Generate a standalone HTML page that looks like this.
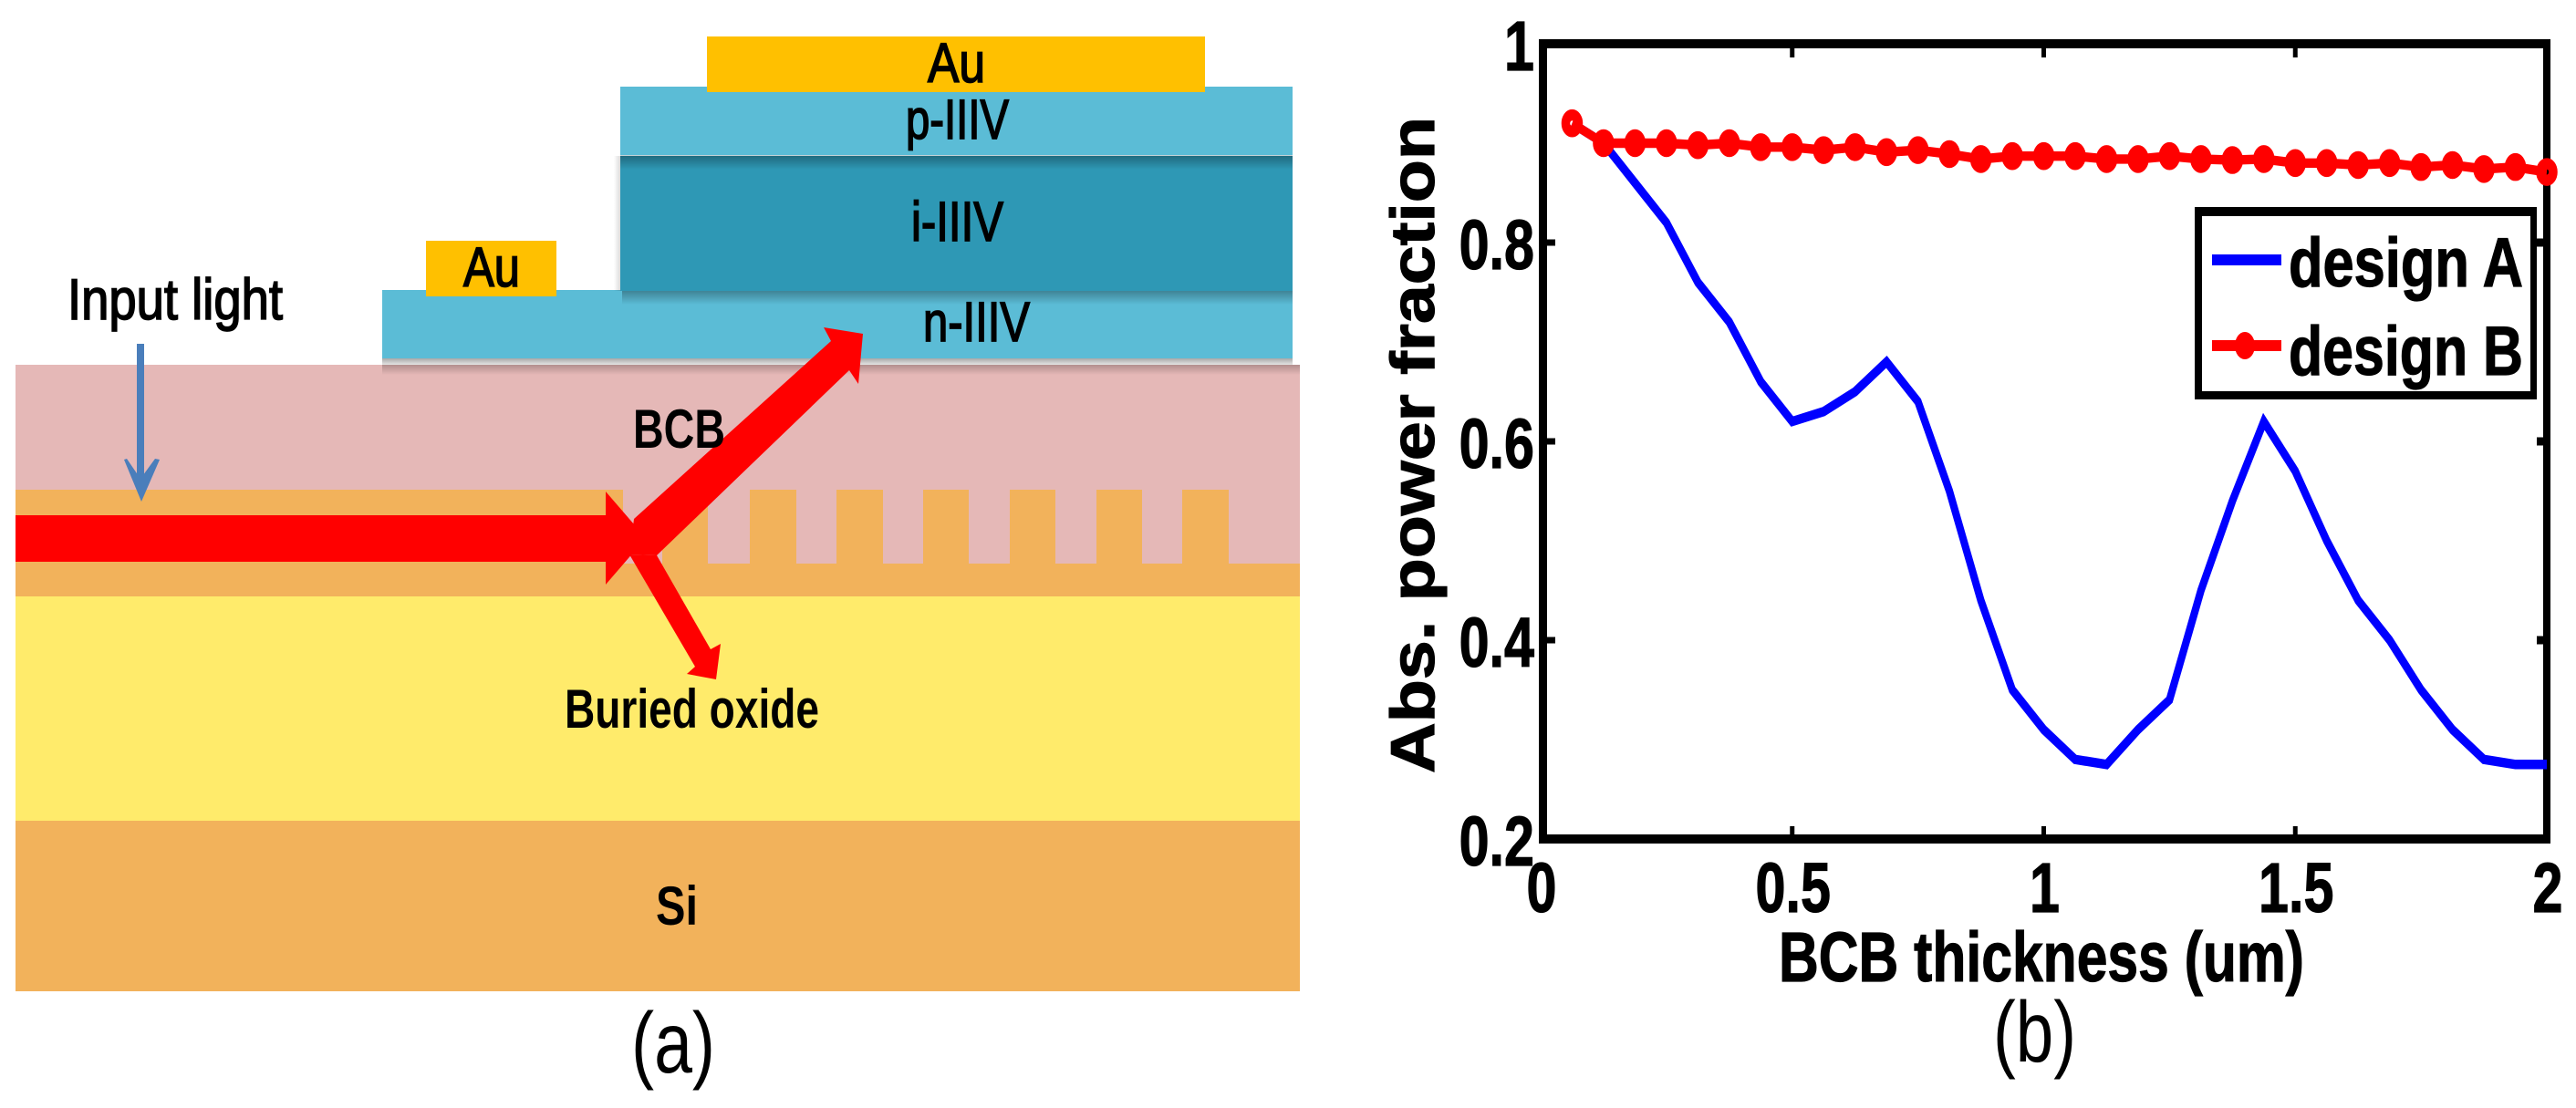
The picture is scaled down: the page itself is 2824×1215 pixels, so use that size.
<!DOCTYPE html>
<html lang="en">
<head>
<meta charset="utf-8">
<title>Device schematic and absorbed power fraction chart</title>
<style>
html,body{margin:0;padding:0;background:#fff;width:2824px;height:1215px;overflow:hidden}
svg{display:block}
text{font-family:"Liberation Sans",sans-serif;fill:#000}
.b{font-weight:700}
.h{font-weight:700;stroke:#000;stroke-width:1.2px}
.m{stroke:#000;stroke-width:1.7px}
</style>
</head>
<body>
<svg id="figure" xmlns="http://www.w3.org/2000/svg" width="2824" height="1215" viewBox="0 0 2824 1215">
<defs>
<linearGradient id="gTop" x1="0" y1="0" x2="0" y2="1"><stop offset="0" stop-color="#000" stop-opacity=".3"/><stop offset="1" stop-color="#000" stop-opacity="0"/></linearGradient>
<linearGradient id="gGrey" x1="0" y1="0" x2="0" y2="1"><stop offset="0" stop-color="#a8a8a8"/><stop offset="1" stop-color="#e4e4e4"/></linearGradient>
<linearGradient id="gSide" x1="0" y1="0" x2="1" y2="0"><stop offset="0" stop-color="#000" stop-opacity="0"/><stop offset="1" stop-color="#000" stop-opacity=".14"/></linearGradient>
</defs>

<g id="schematic">
<rect x="17" y="400" width="1408" height="220" fill="#e5b8b7"/>
<rect x="17" y="537" width="666" height="82" fill="#f2b25b"/>
<rect x="17" y="618" width="1408" height="36" fill="#f2b25b"/>
<rect x="726" y="541" width="50" height="78" fill="#f2b25b"/>
<rect x="822" y="537" width="51" height="82" fill="#f2b25b"/>
<rect x="917" y="537" width="51" height="82" fill="#f2b25b"/>
<rect x="1012" y="537" width="50" height="82" fill="#f2b25b"/>
<rect x="1107" y="537" width="50" height="82" fill="#f2b25b"/>
<rect x="1202" y="537" width="50" height="82" fill="#f2b25b"/>
<rect x="1296" y="537" width="51" height="82" fill="#f2b25b"/>
<rect x="17" y="654" width="1408" height="246" fill="#ffeb6b"/>
<rect x="17" y="900" width="1408" height="187" fill="#f2b25b"/>

<rect x="419" y="393" width="998" height="7" fill="url(#gGrey)"/>
<rect x="419" y="400" width="1006" height="11" fill="url(#gTop)" opacity=".75"/>
<rect x="419" y="318" width="998" height="75" fill="#5bbcd6"/>
<rect x="680" y="95" width="737" height="75" fill="#5bbcd6"/>
<rect x="673" y="171" width="7" height="148" fill="url(#gSide)"/>
<rect x="680" y="171" width="737" height="148" fill="#2e98b5"/>
<rect x="680" y="171" width="737" height="15" fill="url(#gTop)"/>
<rect x="682" y="319" width="735" height="15" fill="url(#gTop)"/>
<rect x="680" y="170" width="737" height="1" fill="#c4d2d6"/>
<rect x="775" y="40" width="546" height="61" fill="#ffc000"/>
<rect x="467" y="264" width="143" height="61" fill="#ffc000"/>

<g fill="#4a7ebb">
<rect x="150" y="377" width="8" height="150"/>
<polygon points="136,504 139,503 154,525 170,503 175,504 155,550"/>
</g>

<polygon fill="#f00" points="17,565 664,565 664,539 708,590 664,641 664,616 17,616"/>
<polygon fill="#f00" points="695,569 911,374 903,359 946,366 941,421 931,406 720,609 690,608"/>
<polygon fill="#f00" points="690,608 720,609 779,712 790,706 785,745 753,739 762,731"/>

<text class="m" x="1017" y="90" font-size="61" textLength="63" lengthAdjust="spacingAndGlyphs">Au</text>
<text class="m" x="993" y="152" font-size="61" textLength="113" lengthAdjust="spacingAndGlyphs">p-IIIV</text>
<text class="m" x="999" y="264" font-size="61" textLength="101" lengthAdjust="spacingAndGlyphs">i-IIIV</text>
<text class="m" x="508" y="314" font-size="61" textLength="62" lengthAdjust="spacingAndGlyphs">Au</text>
<text class="m" x="1012" y="374" font-size="61" textLength="117" lengthAdjust="spacingAndGlyphs">n-IIIV</text>
<text class="m" x="74" y="350" font-size="63" textLength="236" lengthAdjust="spacingAndGlyphs">Input light</text>
<text class="b" x="694" y="491" font-size="60" textLength="101" lengthAdjust="spacingAndGlyphs">BCB</text>
<text class="b" x="619" y="798" font-size="60" textLength="279" lengthAdjust="spacingAndGlyphs">Buried oxide</text>
<text class="b" x="719" y="1014" font-size="60" textLength="46" lengthAdjust="spacingAndGlyphs">Si</text>
<text x="692" y="1176" font-size="95" textLength="92" lengthAdjust="spacingAndGlyphs">(a)</text>
</g>

<g id="chart">
<text class="h" transform="translate(1572,848) rotate(-90)" font-size="68" textLength="720" lengthAdjust="spacingAndGlyphs">Abs. power fraction</text>
<text class="h" x="1950" y="1076" font-size="77" textLength="576" lengthAdjust="spacingAndGlyphs">BCB thickness (um)</text>
<text x="2185" y="1164" font-size="95" textLength="91" lengthAdjust="spacingAndGlyphs">(b)</text>
<g id="axes"></g>
<g id="series"></g>
<g id="legend">
<rect x="2406" y="227" width="375" height="211" fill="#000"/>
<rect x="2414" y="237" width="360" height="192" fill="#fff"/>
<rect x="2425" y="279" width="76" height="12" fill="#00f"/>
<rect x="2425" y="373" width="76" height="12" fill="#f00"/>
<ellipse cx="2461" cy="379" rx="11" ry="15" fill="#f00"/>
<text class="h" x="2509" y="314" font-size="76" textLength="257" lengthAdjust="spacingAndGlyphs">design A</text>
<text class="h" x="2509" y="411" font-size="76" textLength="257" lengthAdjust="spacingAndGlyphs">design B</text>
</g>
</g>
</svg>

<script>
const thickness = [0.0625,0.125,0.1875,0.25,0.3125,0.375,0.4375,0.5,0.5625,0.625,0.6875,0.75,0.8125,0.875,0.9375,1,1.0625,1.125,1.1875,1.25,1.3125,1.375,1.4375,1.5,1.5625,1.625,1.6875,1.75,1.8125,1.875,1.9375,2];
const designA = [0.92,0.9,0.86,0.82,0.76,0.72,0.66,0.62,0.63,0.65,0.68,0.64,0.55,0.44,0.35,0.31,0.28,0.275,0.31,0.34,0.45,0.54,0.62,0.57,0.5,0.44,0.4,0.35,0.31,0.28,0.275,0.275];
const designB = [0.92,0.9,0.9,0.9,0.898,0.9,0.896,0.896,0.893,0.896,0.891,0.893,0.889,0.884,0.887,0.887,0.887,0.884,0.884,0.887,0.884,0.883,0.884,0.88,0.88,0.878,0.88,0.876,0.878,0.874,0.876,0.871];
const xTickValues = [0,0.5,1,1.5,2];
const xTickLabels = ["0","0.5","1","1.5","2"];
const yTickValues = [0.2,0.4,0.6,0.8,1];
const yTickLabels = ["0.2","0.4","0.6","0.8","1"];

const NS = "http://www.w3.org/2000/svg";
const STRETCH = 1.3;
function xScale(v){ return 1689 + (v - 0) / (2 - 0) * (2792 - 1689); }
function yScale(v){ return 920 - (v - 0.2) / (1 - 0.2) * (920 - 48); }
function make(tag, attrs, parent){
  const el = document.createElementNS(NS, tag);
  Object.keys(attrs).forEach(function(k){ el.setAttribute(k, attrs[k]); });
  parent.appendChild(el);
  return el;
}
const axes = document.getElementById("axes");
const series = document.getElementById("series");

xTickValues.forEach(function(v, i){
  const px = xScale(v);
  if (v > 0 && v < 2) {
    const tb = make("rect", {x: px - 2.5, y: 906, width: 5, height: 12, fill: "#000"}, axes);
    
    
    const tt = make("rect", {x: px - 2.5, y: 50, width: 5, height: 13, fill: "#000"}, axes);
    
    
  }
  const lab = make("text", {transform: "translate(" + (px + 1) + ",1000) scale(.77,1)", "text-anchor": "middle", "font-size": 77, "class": "h"}, axes);
  
  
  lab.textContent = xTickLabels[i];
});
yTickValues.forEach(function(v, i){
  const py = yScale(v);
  if (v > 0.2 && v < 1) {
    const tl = make("rect", {x: 1692, y: py - 3.5, width: 13, height: 7, fill: "#000"}, axes);
    
    
    const tr = make("rect", {x: 2781, y: py - 4.5, width: 10, height: 9, fill: "#000"}, axes);
    
    
  }
  const lab = make("text", {transform: "translate(1682," + (py + 29) + ") scale(.77,1)", "text-anchor": "end", "font-size": 77, "class": "h"}, axes);
  
  
  lab.textContent = yTickLabels[i];
});
const frameLeft = make("rect", {x: 1687, y: 44, width: 9, height: 881, fill: "#000"}, axes);


const frameRight = make("rect", {x: 2788, y: 44, width: 8, height: 881, fill: "#000"}, axes);


const frameTop = make("rect", {x: 1687, y: 43, width: 1109, height: 10, fill: "#000"}, axes);


const frameBottom = make("rect", {x: 1687, y: 915, width: 1109, height: 10, fill: "#000"}, axes);



const stretched = make("g", {transform: "scale(1," + STRETCH + ")"}, series);



function pointsFor(values){
  return values.map(function(v, i){
    return xScale(thickness[i]).toFixed(2) + "," + (yScale(v) / STRETCH).toFixed(2);
  }).join(" ");
}
const lineA = make("polyline", {points: pointsFor(designA), fill: "none", stroke: "#00f", "stroke-width": 8, "stroke-linejoin": "miter"}, stretched);


const lineB = make("polyline", {points: pointsFor(designB), fill: "none", stroke: "#f00", "stroke-width": 8, "stroke-linejoin": "round"}, stretched);


designB.forEach(function(v, i){
  const m = make("circle", {cx: xScale(thickness[i]), cy: yScale(v) / STRETCH, r: 7, fill: "none", stroke: "#f00", "stroke-width": 9.5}, stretched);
  
  
});
</script>
</body>
</html>
